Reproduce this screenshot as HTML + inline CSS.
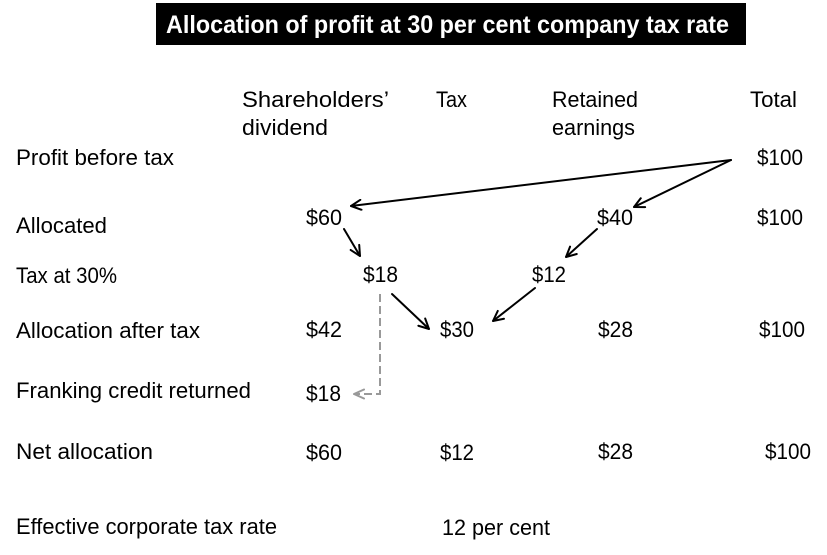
<!DOCTYPE html>
<html>
<head>
<meta charset="utf-8">
<style>
  html, body { margin: 0; padding: 0; background: #ffffff; }
  body { width: 827px; height: 555px; overflow: hidden; }
  svg { display: block; }
  text { font-family: "Liberation Sans", Arial, sans-serif; font-size: 22px; fill: #000; }
  .t { font-weight: bold; font-size: 25px; fill: #fff; }
</style>
</head>
<body>
<svg width="827" height="555" viewBox="0 0 827 555" xmlns="http://www.w3.org/2000/svg">
  <defs>
    <marker id="ah" viewBox="0 0 12 12" refX="11" refY="6" markerWidth="12" markerHeight="12" markerUnits="userSpaceOnUse" orient="auto">
      <path d="M1,1 L11,6 L1,11" fill="none" stroke="#000" stroke-width="2" stroke-linecap="round" stroke-linejoin="round"/>
    </marker>
    <marker id="ahg" viewBox="0 0 12 12" refX="11" refY="6" markerWidth="12" markerHeight="12" markerUnits="userSpaceOnUse" orient="auto">
      <path d="M1,1.5 L11,6 L1,10.5" fill="none" stroke="#999" stroke-width="2" stroke-linecap="round" stroke-linejoin="round"/>
    </marker>
  </defs>

  <rect x="0" y="0" width="827" height="555" fill="#fff"/>

  <!-- Title -->
  <rect x="156" y="3" width="590" height="42" fill="#000"/>
  <text class="t" x="166" y="33" textLength="563" lengthAdjust="spacingAndGlyphs">Allocation of profit at 30 per cent company tax rate</text>

  <!-- Column headers -->
  <text x="242" y="107" textLength="147" lengthAdjust="spacingAndGlyphs">Shareholders’</text>
  <text x="242" y="135" textLength="86" lengthAdjust="spacingAndGlyphs">dividend</text>
  <text x="436" y="107" textLength="31" lengthAdjust="spacingAndGlyphs">Tax</text>
  <text x="552" y="107" textLength="86" lengthAdjust="spacingAndGlyphs">Retained</text>
  <text x="552" y="135" textLength="83" lengthAdjust="spacingAndGlyphs">earnings</text>
  <text x="750" y="107" textLength="47" lengthAdjust="spacingAndGlyphs">Total</text>

  <!-- Row: Profit before tax -->
  <text x="16" y="165" textLength="158" lengthAdjust="spacingAndGlyphs">Profit before tax</text>
  <text x="757" y="165" textLength="46" lengthAdjust="spacingAndGlyphs">$100</text>

  <!-- Row: Allocated -->
  <text x="16" y="233" textLength="91" lengthAdjust="spacingAndGlyphs">Allocated</text>
  <text x="306" y="225" textLength="36" lengthAdjust="spacingAndGlyphs">$60</text>
  <text x="597" y="225" textLength="36" lengthAdjust="spacingAndGlyphs">$40</text>
  <text x="757" y="225" textLength="46" lengthAdjust="spacingAndGlyphs">$100</text>

  <!-- Row: Tax at 30% -->
  <text x="16" y="283" textLength="101" lengthAdjust="spacingAndGlyphs">Tax at 30%</text>
  <text x="363" y="282" textLength="35" lengthAdjust="spacingAndGlyphs">$18</text>
  <text x="532" y="282" textLength="34" lengthAdjust="spacingAndGlyphs">$12</text>

  <!-- Row: Allocation after tax -->
  <text x="16" y="338" textLength="184" lengthAdjust="spacingAndGlyphs">Allocation after tax</text>
  <text x="306" y="337" textLength="36" lengthAdjust="spacingAndGlyphs">$42</text>
  <text x="440" y="337" textLength="34" lengthAdjust="spacingAndGlyphs">$30</text>
  <text x="598" y="337" textLength="35" lengthAdjust="spacingAndGlyphs">$28</text>
  <text x="759" y="337" textLength="46" lengthAdjust="spacingAndGlyphs">$100</text>

  <!-- Row: Franking credit returned -->
  <text x="16" y="398" textLength="235" lengthAdjust="spacingAndGlyphs">Franking credit returned</text>
  <text x="306" y="401" textLength="35" lengthAdjust="spacingAndGlyphs">$18</text>

  <!-- Row: Net allocation -->
  <text x="16" y="459" textLength="137" lengthAdjust="spacingAndGlyphs">Net allocation</text>
  <text x="306" y="460" textLength="36" lengthAdjust="spacingAndGlyphs">$60</text>
  <text x="440" y="460" textLength="34" lengthAdjust="spacingAndGlyphs">$12</text>
  <text x="598" y="459" textLength="35" lengthAdjust="spacingAndGlyphs">$28</text>
  <text x="765" y="459" textLength="46" lengthAdjust="spacingAndGlyphs">$100</text>

  <!-- Row: Effective corporate tax rate -->
  <text x="16" y="534" textLength="261" lengthAdjust="spacingAndGlyphs">Effective corporate tax rate</text>
  <text x="442" y="535" textLength="108" lengthAdjust="spacingAndGlyphs">12 per cent</text>

  <!-- Arrows -->
  <g stroke="#000" stroke-width="2" fill="none" stroke-linecap="round">
    <line x1="731" y1="160" x2="351" y2="206" marker-end="url(#ah)"/>
    <line x1="731" y1="160" x2="634" y2="207" marker-end="url(#ah)"/>
    <line x1="344" y1="229" x2="360" y2="256" marker-end="url(#ah)"/>
    <line x1="392" y1="294" x2="429" y2="329" marker-end="url(#ah)"/>
    <line x1="597" y1="229" x2="566" y2="257" marker-end="url(#ah)"/>
    <line x1="535" y1="288" x2="493" y2="321" marker-end="url(#ah)"/>
  </g>

  <!-- Dashed franking credit arrow -->
  <polyline points="380,294 380,394 354,394" fill="none" stroke="#999" stroke-width="2" stroke-dasharray="8,4" marker-end="url(#ahg)"/>
</svg>
</body>
</html>
